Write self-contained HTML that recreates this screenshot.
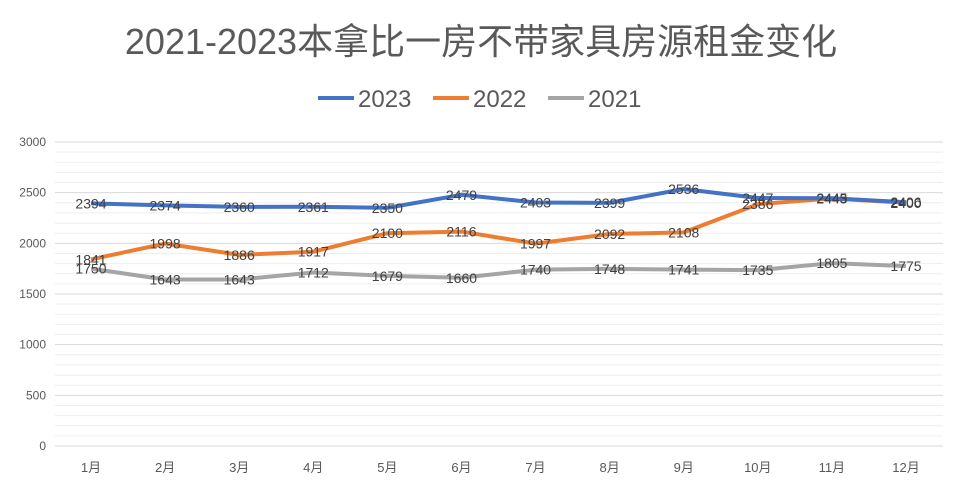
<!DOCTYPE html>
<html><head><meta charset="utf-8"><style>
body{margin:0;background:#fff;width:962px;height:492px;overflow:hidden;font-family:"Liberation Sans","Noto Sans CJK SC",sans-serif}
</style></head><body>
<svg id="c" width="962" height="492" xmlns="http://www.w3.org/2000/svg"></svg>
<script>
const months=["1月","2月","3月","4月","5月","6月","7月","8月","9月","10月","11月","12月"];
const s2023=[2394,2374,2360,2361,2350,2479,2403,2399,2536,2447,2445,2406];
const s2022=[1841,1998,1886,1917,2100,2116,1997,2092,2108,2386,2443,2400];
const s2021=[1750,1643,1643,1712,1679,1660,1740,1748,1741,1735,1805,1775];
const yTicks=[0,500,1000,1500,2000,2500,3000];
const NS="http://www.w3.org/2000/svg",svg=document.getElementById('c');
const L=55,R=943,T=142,B=446;
const x=i=>91+i*(906-91)/11, y=v=>B-(v/3000)*(B-T);
function mk(t,a,txt){const e=document.createElementNS(NS,t);for(const k in a)e.setAttribute(k,a[k]);if(txt!=null)e.textContent=txt;svg.appendChild(e);return e;}
let t=mk('text',{x:481,y:54,'text-anchor':'middle','font-size':36,fill:'#595959'},'2021-2023本拿比一房不带家具房源租金变化');

for(let v=0;v<=3000;v+=100){const g=mk('line',{x1:L,x2:R,y1:y(v),y2:y(v),stroke:v%500==0?'#d9d9d9':'#eeeeee','stroke-width':1});
}
yTicks.forEach(v=>{const e=mk('text',{x:46,y:y(v)+4,'text-anchor':'end','font-size':12,fill:'#595959'},v);
});
months.forEach((m,i)=>{const e=mk('text',{x:x(i),y:472,'text-anchor':'middle','font-size':13,fill:'#595959'},m);
});
const series=[["2021",s2021,"#a5a5a5"],["2022",s2022,"#ed7d31"],["2023",s2023,"#4472c4"]];
series.forEach(([n,d,c])=>{const p=mk('polyline',{points:d.map((v,i)=>x(i)+','+y(v)).join(' '),fill:'none',stroke:c,'stroke-width':4,'stroke-linejoin':'round'});
});
series.forEach(([n,d,c])=>{d.forEach((v,i)=>{const e=mk('text',{x:x(i),y:y(v)+5,'text-anchor':'middle','font-size':14,fill:'#404040'},v);
});});
const leg=[["2023","#4472c4",318],["2022","#ed7d31",433],["2021","#a5a5a5",548]];
leg.forEach(([n,c,lx])=>{const l=mk('line',{x1:lx,x2:lx+36,y1:98,y2:98,stroke:c,'stroke-width':4});

const e=mk('text',{x:lx+40,y:107,'font-size':24,fill:'#595959'},n);
});
</script>
</body></html>
